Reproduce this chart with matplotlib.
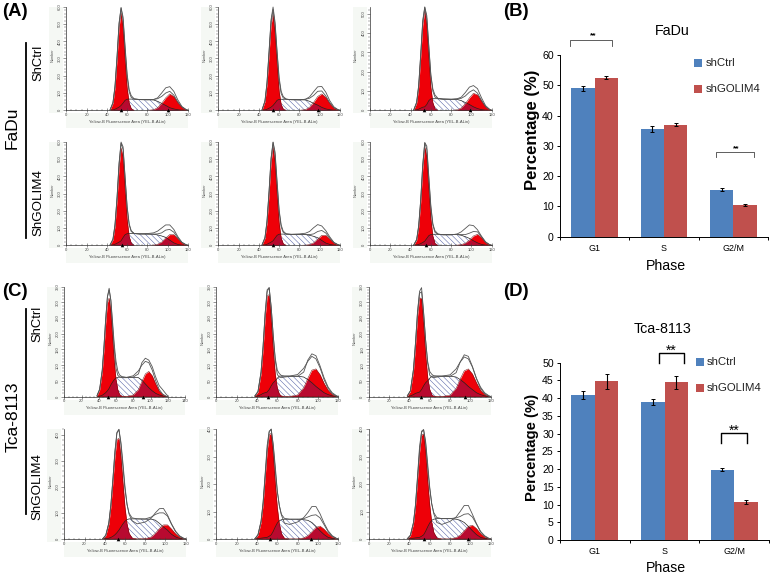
import matplotlib
matplotlib.use("Agg")
import matplotlib.pyplot as plt
import numpy as np
from matplotlib.lines import Line2D
from matplotlib.patches import Rectangle
from matplotlib.ticker import MultipleLocator

plt.rcParams['font.family'] = ['Liberation Sans', 'DejaVu Sans']
plt.rcParams['hatch.linewidth'] = 0.35

W, H = 773, 576

# bar charts
phases = ['G1', 'S', 'G2/M']
fadu_ctrl = [49, 35.5, 15.5]
fadu_ctrl_err = [0.8, 1.0, 0.5]
fadu_golim = [52.5, 37, 10.5]
fadu_golim_err = [0.5, 0.6, 0.2]
tca_ctrl = [41, 39, 19.8]
tca_ctrl_err = [1.1, 0.8, 0.4]
tca_golim = [44.7, 44.5, 10.8]
tca_golim_err = [2.2, 1.8, 0.6]

# histograms, FaDu grid
x_f = [43, 46, 48, 50, 52, 54, 56, 58, 60, 62, 64, 67, 72, 80, 86, 90, 94, 98, 102, 106, 110, 114, 118, 120]

a1_g1 = [0, 41, 130, 294, 480, 565, 480, 294, 130, 41, 10, 0, 0, 0, 0, 0, 0, 0, 0, 0, 0, 0, 0, 0]
a1_s = [0, 2, 6, 12, 18, 28, 42, 58, 64, 65, 65, 65, 63, 62, 60, 52, 40, 28, 15, 8, 3, 1, 0, 0]
a1_g2 = [0, 0, 0, 0, 0, 0, 0, 0, 0, 0, 0, 0, 0, 0, 3, 15, 40, 72, 95, 80, 45, 18, 4, 0]
a1_raw = [0, 45, 140, 310, 505, 595, 540, 370, 210, 120, 85, 66, 62, 60, 62, 72, 100, 130, 137, 110, 60, 22, 5, 0]

a2_g1 = [0, 50, 150, 320, 495, 555, 450, 270, 110, 32, 8, 0, 0, 0, 0, 0, 0, 0, 0, 0, 0, 0, 0, 0]
a2_s = [0, 2, 6, 12, 18, 28, 42, 58, 63, 64, 64, 64, 62, 61, 60, 52, 40, 30, 17, 8, 3, 1, 0, 0]
a2_g2 = [0, 0, 0, 0, 0, 0, 0, 0, 0, 0, 0, 0, 0, 0, 4, 18, 46, 80, 95, 75, 40, 14, 3, 0]
a2_raw = [0, 55, 160, 340, 525, 598, 510, 340, 190, 110, 80, 65, 61, 60, 64, 78, 108, 136, 138, 105, 55, 20, 4, 0]

a3_g1 = [0, 38, 120, 275, 440, 515, 445, 275, 120, 38, 9, 0, 0, 0, 0, 0, 0, 0, 0, 0, 0, 0, 0, 0]
a3_s = [0, 2, 6, 11, 16, 18, 30, 50, 59, 60, 60, 60, 58, 57, 56, 50, 40, 30, 18, 9, 3, 1, 0, 0]
a3_g2 = [0, 0, 0, 0, 0, 0, 0, 0, 0, 0, 0, 0, 0, 0, 2, 12, 34, 64, 88, 80, 48, 18, 4, 0]
a3_raw = [0, 42, 130, 290, 465, 535, 490, 335, 185, 110, 80, 62, 58, 57, 60, 68, 92, 120, 128, 112, 64, 24, 5, 0]

a4_g1 = [0, 32, 110, 260, 450, 565, 510, 325, 150, 50, 12, 0, 0, 0, 0, 0, 0, 0, 0, 0, 0, 0, 0, 0]
a4_s = [0, 2, 6, 12, 18, 26, 45, 62, 67, 68, 68, 68, 66, 65, 64, 60, 54, 46, 30, 14, 5, 1, 0, 0]
a4_g2 = [0, 0, 0, 0, 0, 0, 0, 0, 0, 0, 0, 0, 0, 0, 1, 6, 18, 42, 62, 62, 38, 15, 3, 0]
a4_raw = [0, 36, 120, 275, 475, 598, 570, 395, 225, 125, 85, 68, 66, 68, 72, 82, 100, 118, 118, 92, 50, 18, 4, 0]

a5_g1 = [0, 41, 130, 294, 480, 570, 480, 294, 130, 41, 10, 0, 0, 0, 0, 0, 0, 0, 0, 0, 0, 0, 0, 0]
a5_s = [0, 2, 6, 12, 18, 26, 42, 58, 64, 65, 65, 65, 63, 62, 62, 58, 52, 44, 28, 13, 5, 1, 0, 0]
a5_g2 = [0, 0, 0, 0, 0, 0, 0, 0, 0, 0, 0, 0, 0, 0, 1, 4, 14, 36, 58, 58, 36, 14, 3, 0]
a5_raw = [0, 45, 140, 310, 505, 598, 540, 370, 205, 118, 82, 66, 64, 66, 70, 80, 102, 120, 112, 85, 48, 17, 4, 0]

a6_g1 = [0, 30, 105, 250, 445, 570, 515, 330, 155, 52, 12, 0, 0, 0, 0, 0, 0, 0, 0, 0, 0, 0, 0, 0]
a6_s = [0, 2, 5, 10, 16, 24, 40, 56, 62, 64, 64, 64, 62, 62, 62, 58, 50, 40, 26, 14, 5, 1, 0, 0]
a6_g2 = [0, 0, 0, 0, 0, 0, 0, 0, 0, 0, 0, 0, 0, 0, 1, 4, 12, 30, 54, 64, 44, 16, 3, 0]
a6_raw = [0, 34, 115, 265, 470, 595, 575, 400, 230, 125, 85, 66, 60, 60, 66, 78, 98, 118, 114, 90, 52, 20, 4, 0]

# histograms, Tca-8113 grid
x_t = [38, 41, 44, 46, 48, 50, 52, 54, 56, 58, 60, 62, 64, 67, 72, 80, 86, 90, 94, 98, 102, 106, 110, 114, 118, 120]

c1_g1 = [3, 21, 79, 150, 234, 299, 314, 271, 192, 111, 53, 21, 7, 1, 0, 0, 0, 0, 0, 0, 0, 0, 0, 0, 0, 0]
c1_s = [0, 1, 4, 8, 12, 18, 26, 37, 46, 54, 59, 61, 62, 62, 61, 61, 60, 52, 40, 28, 18, 10, 5, 2, 0, 0]
c1_g2 = [0, 0, 0, 0, 0, 0, 0, 0, 0, 0, 0, 0, 0, 0, 0, 5, 22, 48, 72, 80, 66, 40, 18, 6, 1, 0]
c1_raw = [3, 24, 85, 160, 248, 318, 345, 305, 225, 150, 90, 68, 62, 60, 60, 62, 72, 108, 122, 116, 95, 62, 35, 22, 8, 2]

c2_g1 = [2, 14, 72, 150, 250, 320, 325, 250, 150, 72, 26, 8, 2, 0, 0, 0, 0, 0, 0, 0, 0, 0, 0, 0, 0, 0]
c2_s = [0, 2, 6, 10, 12, 14, 22, 34, 44, 50, 58, 65, 65, 65, 65, 65, 62, 54, 44, 32, 22, 12, 6, 2, 0, 0]
c2_g2 = [0, 0, 0, 0, 0, 0, 0, 0, 0, 0, 0, 0, 0, 0, 0, 5, 28, 58, 84, 88, 70, 42, 20, 7, 1, 0]
c2_raw = [2, 16, 78, 160, 265, 340, 347, 285, 195, 115, 70, 62, 60, 62, 64, 64, 78, 116, 136, 130, 98, 60, 30, 12, 3, 0]

c3_g1 = [2, 16, 80, 160, 255, 315, 312, 232, 135, 62, 22, 6, 1, 0, 0, 0, 0, 0, 0, 0, 0, 0, 0, 0, 0, 0]
c3_s = [0, 2, 6, 10, 12, 14, 22, 34, 44, 50, 58, 65, 65, 65, 65, 65, 62, 54, 44, 32, 22, 12, 6, 2, 0, 0]
c3_g2 = [0, 0, 0, 0, 0, 0, 0, 0, 0, 0, 0, 0, 0, 0, 0, 4, 26, 56, 82, 88, 72, 44, 20, 7, 1, 0]
c3_raw = [2, 18, 85, 170, 270, 335, 347, 270, 180, 105, 68, 62, 60, 62, 64, 64, 76, 110, 133, 128, 96, 58, 30, 12, 3, 0]

c4_g1 = [1, 13, 57, 122, 216, 315, 381, 385, 315, 216, 122, 57, 22, 4, 0, 0, 0, 0, 0, 0, 0, 0, 0, 0, 0, 0]
c4_s = [0, 1, 3, 6, 10, 16, 24, 34, 46, 58, 68, 74, 77, 77, 77, 76, 76, 72, 60, 46, 34, 18, 8, 2, 0, 0]
c4_g2 = [0, 0, 0, 0, 0, 0, 0, 0, 0, 0, 0, 0, 0, 0, 0, 1, 8, 22, 40, 54, 54, 38, 20, 8, 2, 0]
c4_raw = [1, 15, 62, 130, 228, 335, 408, 420, 370, 290, 200, 135, 95, 70, 58, 65, 80, 100, 116, 117, 92, 58, 30, 12, 3, 0]

c5_g1 = [1, 14, 60, 125, 222, 320, 378, 385, 310, 205, 115, 55, 20, 3, 0, 0, 0, 0, 0, 0, 0, 0, 0, 0, 0, 0]
c5_s = [0, 1, 3, 4, 5, 6, 10, 15, 28, 44, 58, 66, 70, 72, 72, 72, 70, 68, 60, 46, 30, 16, 6, 2, 0, 0]
c5_g2 = [0, 0, 0, 0, 0, 0, 0, 0, 0, 0, 0, 0, 0, 0, 0, 0, 4, 12, 26, 42, 47, 36, 20, 8, 2, 0]
c5_raw = [1, 16, 65, 133, 235, 340, 392, 399, 345, 265, 175, 122, 88, 58, 53, 62, 78, 96, 118, 118, 92, 58, 30, 12, 3, 0]

c6_g1 = [1, 12, 55, 118, 215, 315, 378, 382, 320, 215, 125, 60, 24, 4, 0, 0, 0, 0, 0, 0, 0, 0, 0, 0, 0, 0]
c6_s = [0, 1, 3, 4, 5, 6, 10, 15, 28, 44, 58, 68, 72, 74, 74, 74, 72, 68, 60, 46, 30, 16, 6, 2, 0, 0]
c6_g2 = [0, 0, 0, 0, 0, 0, 0, 0, 0, 0, 0, 0, 0, 0, 0, 0, 5, 14, 30, 46, 50, 38, 20, 8, 2, 0]
c6_raw = [1, 14, 60, 125, 228, 335, 392, 398, 355, 275, 190, 128, 92, 60, 53, 64, 80, 100, 122, 122, 90, 56, 28, 12, 3, 0]

fig = plt.figure(figsize=(W / 100, H / 100), dpi=100)


def axes_px(left, right, top, bottom):
    return fig.add_axes([left / W, 1 - bottom / H, (right - left) / W, (bottom - top) / H])


def label(x, y, s, **kw):
    fig.text(x / W, 1 - y / H, s, ha='center', va='center', **kw)


def histogram(box, xs, g1, s, g2, raw, xmax, ymax, ystep, peaks):
    left, right, top, bottom = box
    fig.add_artist(Rectangle((left / W - 17 / W, 1 - (bottom + 3) / H), 14 / W, (bottom + 3 - top) / H,
                             color='#f5f8f4', lw=0, zorder=-5))
    fig.add_artist(Rectangle((left / W, 1 - (bottom + 18) / H), (right - left) / W, 15 / H,
                             color='#f5f8f4', lw=0, zorder=-5))
    ax = axes_px(left, right, top, bottom)
    xs, g1, s, g2, raw = map(np.array, (xs, g1, s, g2, raw))
    fit = g1 + s + g2

    ax.fill_between(xs, s, facecolor='white', edgecolor='#4a58a0', hatch='\\\\\\\\\\\\', linewidth=0)
    ax.fill_between(xs, g1, color='#ee0008', lw=0)
    ax.fill_between(xs, g2, color='#ee0008', lw=0)
    ax.fill_between(xs, np.minimum(s, g1), color='#b80a30', lw=0)
    ax.fill_between(xs, np.minimum(s, g2), color='#b80a30', lw=0)
    ax.plot(xs, s, color='#222222', lw=0.5)
    ax.plot(xs, g1, color='#701010', lw=0.35)
    ax.plot(xs, g2, color='#701010', lw=0.35)
    ax.plot(xs, fit, color='#555555', lw=0.6, clip_on=False)
    ax.plot(xs, raw, color='#555555', lw=0.6, clip_on=False)
    ax.plot(peaks, [0] * len(peaks), '^', color='black', ms=2.6, mew=0, clip_on=False,
            transform=ax.get_xaxis_transform(), zorder=6)

    ax.set_xlim(0, xmax)
    ax.set_ylim(0, ymax)
    ax.xaxis.set_major_locator(MultipleLocator(20))
    ax.xaxis.set_minor_locator(MultipleLocator(5))
    ax.yaxis.set_major_locator(MultipleLocator(ystep))
    ax.yaxis.set_minor_locator(MultipleLocator(ystep / 5))
    ax.tick_params(axis='both', which='major', length=2.2, width=0.4, labelsize=3, pad=1,
                   colors='#444444')
    ax.tick_params(axis='both', which='minor', length=1.2, width=0.3, colors='#444444')
    ax.tick_params(axis='x', which='both', direction='inout')
    ax.tick_params(axis='y', labelrotation=90)
    for t in ax.get_yticklabels():
        t.set_va('center')
    for side in ('top', 'right'):
        ax.spines[side].set_visible(False)
    for side in ('left', 'bottom'):
        ax.spines[side].set_linewidth(0.5)
        ax.spines[side].set_color('#333333')
    ax.patch.set_alpha(0)
    label(left - 14, (top + bottom) / 2 - 3, 'Number', fontsize=2.8, rotation=90, color='#555555')
    label((left + right) / 2, bottom + 12, 'Yellow-B Fluorescence Area (YEL-B-ALin)', fontsize=3, color='#444444')


histogram((66.3, 188, 6.7, 110.3), x_f, a1_g1, a1_s, a1_g2, a1_raw, 120, 600, 100, [54, 100])
histogram((218.3, 340, 6.7, 110.3), x_f, a2_g1, a2_s, a2_g2, a2_raw, 120, 600, 100, [54, 98])
histogram((370, 491.7, 6.7, 110.3), x_f, a3_g1, a3_s, a3_g2, a3_raw, 120, 536, 100, [53, 99])
histogram((66.3, 188, 141.7, 245.3), x_f, a4_g1, a4_s, a4_g2, a4_raw, 120, 600, 100, [55])
histogram((218.3, 340, 141.7, 245.3), x_f, a5_g1, a5_s, a5_g2, a5_raw, 120, 600, 100, [54])
histogram((370, 491.7, 141.7, 245.3), x_f, a6_g1, a6_s, a6_g2, a6_raw, 120, 600, 100, [55])
histogram((64.3, 185, 286.7, 396.5), x_t, c1_g1, c1_s, c1_g2, c1_raw, 140, 350, 50, [51, 91])
histogram((216.3, 338.3, 286.7, 396.5), x_t, c2_g1, c2_s, c2_g2, c2_raw, 120, 350, 50, [51])
histogram((368.7, 490.7, 286.7, 396.5), x_t, c3_g1, c3_s, c3_g2, c3_raw, 120, 350, 50, [51, 95])
histogram((64.3, 185.7, 429.3, 539), x_t, c4_g1, c4_s, c4_g2, c4_raw, 120, 420, 100, [53])
histogram((216.3, 338.3, 429, 539), x_t, c5_g1, c5_s, c5_g2, c5_raw, 120, 400, 100, [53, 93])
histogram((368.7, 490.7, 429, 539), x_t, c6_g1, c6_s, c6_g2, c6_raw, 120, 400, 100, [54, 98])


def bars(box, ctrl, ctrl_err, golim, golim_err, ymax, ystep):
    ax = axes_px(*box)
    pos = np.arange(len(phases)) + 0.5
    w = 0.336
    err = dict(ecolor='black', elinewidth=0.8, capsize=1.3, capthick=0.7)
    ax.bar(pos - w / 2, ctrl, w, yerr=ctrl_err, color='#4f81bd', error_kw=err)
    ax.bar(pos + w / 2, golim, w, yerr=golim_err, color='#c0504d', error_kw=err)
    ax.set_xlim(0, len(phases))
    ax.set_ylim(0, ymax)
    ax.set_xticks(np.arange(len(phases) + 1))
    ax.set_xticklabels([])
    ax.set_xticks(pos, minor=True)
    ax.set_xticklabels(phases, minor=True, fontsize=6.4)
    ax.tick_params(axis='x', which='minor', length=0, pad=5)
    ax.tick_params(axis='x', which='major', length=2.5, width=0.7)
    ax.yaxis.set_major_locator(MultipleLocator(ystep))
    ax.tick_params(axis='y', length=2.5, width=0.7, labelsize=7.6, pad=2)
    for side in ('top', 'right'):
        ax.spines[side].set_visible(False)
    for side in ('left', 'bottom'):
        ax.spines[side].set_linewidth(0.7)
    return ax


def bracket(ax, x0, x1, y_top, y_end, color, lw):
    ax.plot([x0, x0, x1, x1], [y_end, y_top, y_top, y_end], color=color, lw=lw, clip_on=False)


ax_b = bars((560, 768, 55, 236.7), fadu_ctrl, fadu_ctrl_err, fadu_golim, fadu_golim_err, 60, 10)
bracket(ax_b, 0.144, 0.75, 65, 63, '#444444', 0.6)
bracket(ax_b, 2.25, 2.80, 28, 26.3, '#444444', 0.6)
label(593, 36, '**', fontsize=6, fontweight='bold')
label(736, 149, '**', fontsize=6, fontweight='bold')

ax_d = bars((560, 769, 362.7, 540), tca_ctrl, tca_ctrl_err, tca_golim, tca_golim_err, 50, 5)
bracket(ax_d, 1.417, 1.78, 52.7, 49.9, 'black', 1.0)
bracket(ax_d, 2.31, 2.68, 30.1, 27.3, 'black', 1.0)
label(671, 351, '**', fontsize=10)
label(734, 431, '**', fontsize=10)

label(672, 31, 'FaDu', fontsize=10.3)
label(663, 329, 'Tca-8113', fontsize=10.3)
label(666, 266, 'Phase', fontsize=10.2)
label(666, 568.5, 'Phase', fontsize=10.2)
label(532, 130, 'Percentage (%)', fontsize=12, fontweight='bold', rotation=90)
label(532, 447, 'Percentage (%)', fontsize=10.7, fontweight='bold', rotation=90)

for x, y, c in [(698, 63, '#4f81bd'), (698, 89, '#c0504d'), (700, 362, '#4f81bd'), (700, 388, '#c0504d')]:
    fig.add_artist(Rectangle(((x - 4) / W, 1 - (y + 4) / H), 8 / W, 8 / H, color=c, lw=0))
for x, y, s in [(706, 63, 'shCtrl'), (706, 89, 'shGOLIM4'), (707, 362, 'shCtrl'), (707, 388, 'shGOLIM4')]:
    fig.text(x / W, 1 - y / H, s, fontsize=8.2, color='#222222', va='center', ha='left')

# panel letters and side labels
for x, y, s in [(15, 12, '(A)'), (516, 12, '(B)'), (15, 291, '(C)'), (516, 292, '(D)')]:
    label(x, y, s, fontsize=13.3, fontweight='bold')
label(12, 128, 'FaDu', fontsize=12.5, rotation=90)
label(13, 417, 'Tca-8113', fontsize=12.5, rotation=90)
label(38, 63, 'ShCtrl', fontsize=9.4, rotation=90)
label(38, 203, 'ShGOLIM4', fontsize=9.6, rotation=90)
label(37, 324, 'ShCtrl', fontsize=9.4, rotation=90)
label(37, 487, 'ShGOLIM4', fontsize=9.6, rotation=90)
fig.add_artist(Line2D([26 / W, 26 / W], [1 - 43 / H, 1 - 238 / H], color='black', lw=1.3))
fig.add_artist(Line2D([26 / W, 26 / W], [1 - 309 / H, 1 - 514 / H], color='black', lw=1.3))

fig.savefig('out.png', dpi=100)
